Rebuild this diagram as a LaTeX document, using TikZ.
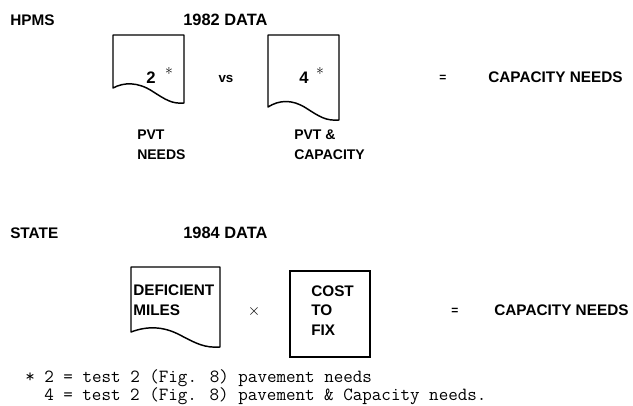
\documentclass[tikz,border=0pt]{standalone}
\usepackage{fontspec}
\setsansfont{Liberation Sans}
\usepackage{xcolor}
\usepackage{tikz}
\usetikzlibrary{positioning}

\tikzset{
  head/.style={font=\sffamily\bfseries\fontsize{11.5}{13}\selectfont, inner sep=0pt},
  lbl/.style={font=\sffamily\bfseries\fontsize{10.5}{12}\selectfont, inner sep=0pt, anchor=west},
  doc/.style={line width=1.1pt, line join=round},
  note/.style={font=\ttfamily\fontsize{13.9}{15}\selectfont, inner sep=0pt, anchor=west}
}

\begin{document}
\begin{tikzpicture}[x=0.75pt, y=-0.75pt]
        \useasboundingbox (0,0) rectangle (633,405);

        % HPMS row
        \node[head, anchor=west] (hpms) at (10,20) {HPMS};
        \node[head, anchor=west, font=\sffamily\bfseries\fontsize{12.3}{13}\selectfont] (d82) at (183,20) {1982 DATA};

        \draw[doc] (113,88) -- (113,35) -- (184,35) -- (184,103)
              .. controls (172,104) and (166,100) .. (152,91)
              .. controls (138,82) and (124,82) .. cycle;
        \node[head, font=\sffamily\bfseries\fontsize{12.5}{13}\selectfont] (two) at (151,78) {2};
        \node[inner sep=0pt, font=\fontsize{12}{12}\selectfont] (twostar) at (169,73) {*};
        \node[head, font=\sffamily\bfseries\fontsize{10}{10}\selectfont] (vs) at (226,79) {vs};

        \draw[doc] (268,107) -- (268,35) -- (339,35) -- (339,120)
              .. controls (326,121) and (320,117) .. (306,108)
              .. controls (292,99) and (279,100) .. cycle;
        \node[head, font=\sffamily\bfseries\fontsize{12.5}{13}\selectfont] (four) at (304,78) {4};
        \node[inner sep=0pt, font=\fontsize{12}{12}\selectfont] (fourstar) at (320,73) {*};

        \node[head, font=\sffamily\bfseries\fontsize{9}{10}\selectfont] (eq1) at (443,78) {=};
        \node[head, anchor=west] (cap1) at (488,77) {CAPACITY NEEDS};

        \node[lbl] (pvt)  at (137,135) {PVT};
        \node[lbl] (pvtn) at (137,155) {NEEDS};
        \node[lbl] (pvc)  at (294,135) {PVT \&};
        \node[lbl] (pvcc) at (294,155) {CAPACITY};

        % STATE row
        \node[head, anchor=west] (state) at (10,233) {STATE};
        \node[head, anchor=west, font=\sffamily\bfseries\fontsize{12.3}{13}\selectfont] (d84) at (183,233) {1984 DATA};

        \draw[doc] (131,332) -- (131,267) -- (220,267) -- (220,347)
              .. controls (205,348) and (197,344) .. (180,335)
              .. controls (163,326) and (147,326) .. cycle;
        \node[head, anchor=west] (defic) at (133,290) {DEFICIENT};
        \node[head, anchor=west] (miles) at (133,310) {MILES};

        \node[inner sep=0pt, font=\sffamily\fontsize{12.5}{12}\selectfont] (times) at (254,311) {$\times$};

        \draw[line width=1.5pt] (290,271) rectangle (370,357);
        \node[head, anchor=west] (cost) at (311,291) {COST};
        \node[head, anchor=west] (to)   at (311,310) {TO};
        \node[head, anchor=west] (fix)  at (311,330) {FIX};

        \node[head, font=\sffamily\bfseries\fontsize{9}{10}\selectfont] (eq2) at (455,311) {=};
        \node[head, anchor=west] (cap2) at (494,310) {CAPACITY NEEDS};

        % footnote
        \node[note] (fn1) at (25,378) {* 2 = test 2 (Fig. 8) pavement needs};
        \node[note] (fn2) at (44,396) {4 = test 2 (Fig. 8) pavement \& Capacity needs.};
\end{tikzpicture}
\end{document}
